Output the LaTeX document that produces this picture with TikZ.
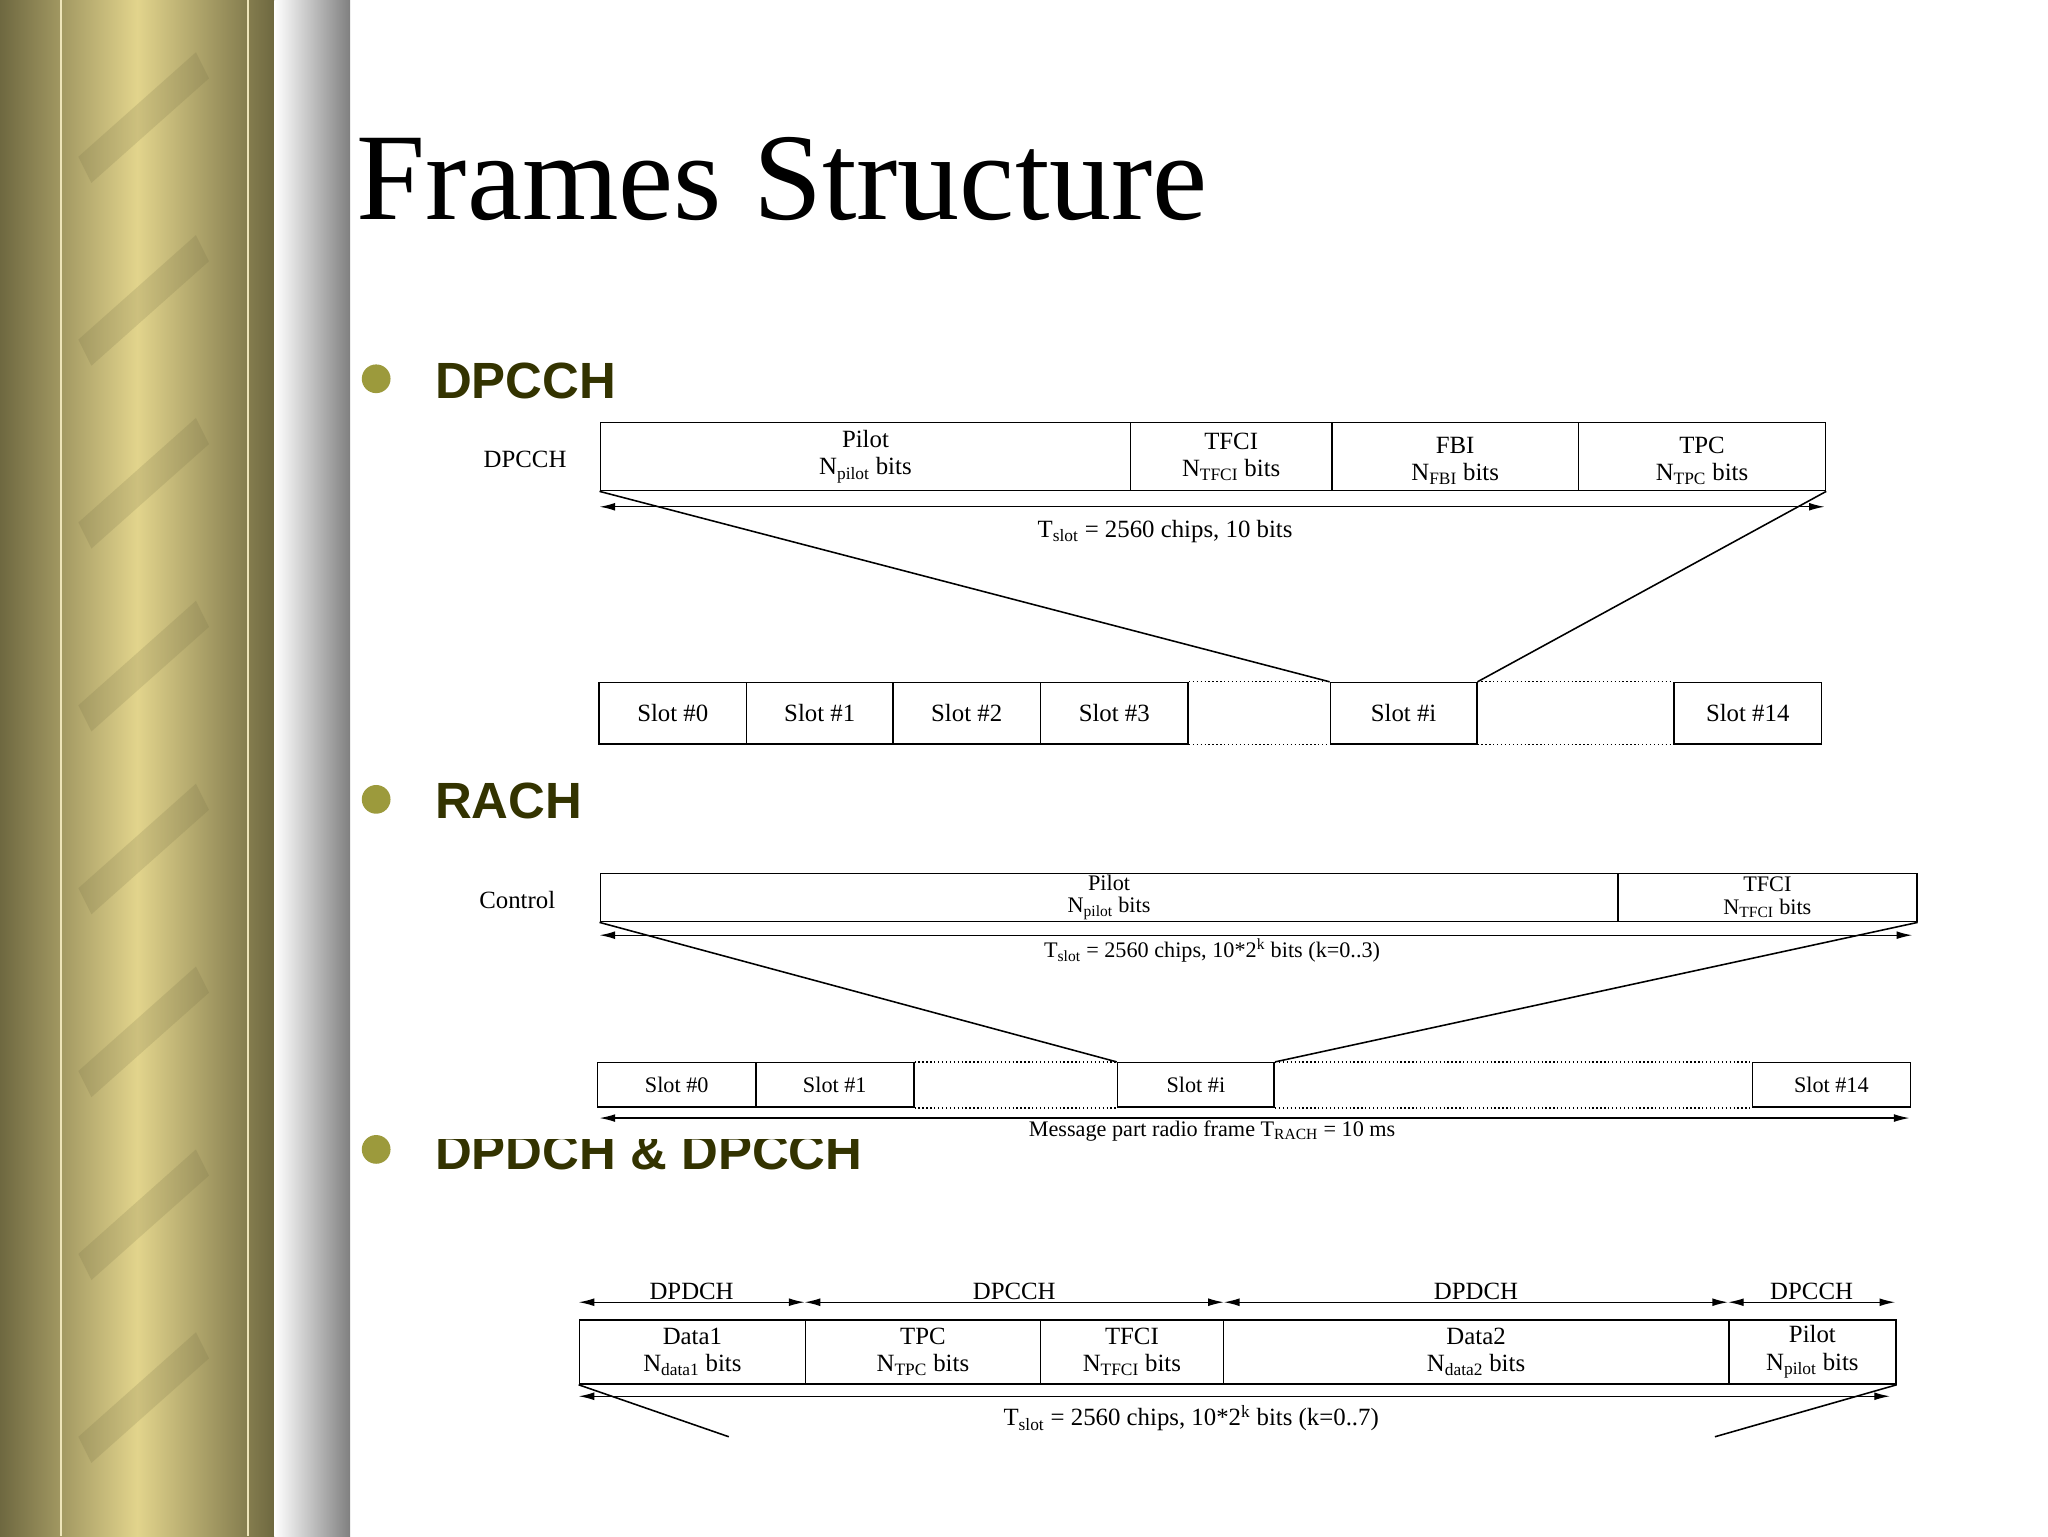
\documentclass[tikz,border=0pt]{standalone}
\usepackage{fontspec}
\setmainfont{Liberation Serif}
\setsansfont{Liberation Sans}
\usetikzlibrary{arrows.meta}
\definecolor{gold}{HTML}{E2D48C}
\definecolor{golddk}{HTML}{6E6840}
\definecolor{olive}{HTML}{9C9A3C}
\definecolor{headc}{HTML}{333300}
\tikzset{
  fld/.style={draw,line width=1.2pt,inner sep=0pt,anchor=north west,font=\fontsize{19}{21}\selectfont},
  lbl/.style={font=\fontsize{19}{21}\selectfont,align=center},
  dim/.style={line width=1pt,{Latex[length=12pt,width=6pt]}-{Latex[length=12pt,width=6pt]}},
  dot/.style={line width=1pt,dotted},
  fan/.style={line width=1.2pt},
  bul/.style={circle,fill=olive,minimum size=22pt,inner sep=0pt},
  head/.style={font=\fontsize{39}{39}\selectfont\sffamily\bfseries,text=headc,anchor=base west,inner sep=0pt},
}
\begin{document}
\begin{tikzpicture}[x=1pt,y=-1pt]
\useasboundingbox (0,0) rectangle (1568,1176);
\fill[white] (0,0) rectangle (1568,1176);
% left decorative strip
\shade[left color=golddk,right color=gold] (0,0) rectangle (105,1176);
\shade[left color=gold,right color=golddk] (105,0) rectangle (210,1176);
\foreach \k in {0,...,8}{
  \fill[golddk,opacity=0.18] (60,-20+\k*140) -- (150,-100+\k*140) -- (160,-80+\k*140) -- (70,0+\k*140) -- cycle;}
\draw[gold!60!white,line width=1.5pt] (47,0) -- (47,1176);
\draw[gold!60!white,line width=1.5pt] (190,0) -- (190,1176);
\shade[left color=white,right color=gray] (210,0) rectangle (268,1176);
% title
\node[anchor=base west,inner sep=0pt,font=\fontsize{95}{95}\selectfont] (title) at (273,168) {Frames Structure};
% bullets
\node[bul] (b1) at (288,290) {};
\node[bul] (b2) at (288,612) {};
\node[bul] (b3) at (288,880) {};
\node[head] (h1) at (333,305) {DPCCH};
\node[head] (h2) at (333,627) {RACH};
\node[head] (h3) at (333,895) {DPDCH \& DPCCH};
\fill[white] (330,650) rectangle (1490,872);

% ===== DPCCH =====
\node[lbl,anchor=center] (l1) at (402,352) {DPCCH};
\node[fld,minimum width=406pt,minimum height=52pt] (p1) at (459,323) {};
\node[fld,minimum width=154pt,minimum height=52pt] (p2) at (865,323) {};
\node[fld,minimum width=189pt,minimum height=52pt] (p3) at (1019,323) {};
\node[fld,minimum width=189pt,minimum height=52pt] (p4) at (1208,323) {};
\node[lbl] at (p1.center) {Pilot\\N\textsubscript{pilot} bits};
\node[lbl] at (p2.center) {TFCI\\N\textsubscript{TFCI} bits};
\node[lbl] at ([yshift=-3pt]p3.center) {FBI\\N\textsubscript{FBI} bits};
\node[lbl] at ([yshift=-3pt]p4.center) {TPC\\N\textsubscript{TPC} bits};
\coordinate (a1l) at (459,388); \coordinate (a1r) at (1397,388);
\draw[dim] (a1l) -- (a1r);
\node[lbl] at (892,407) {T\textsubscript{slot} = 2560 chips, 10 bits};
\node[fld,minimum width=113pt,minimum height=47pt] (s0) at (458,522) {Slot \#0};
\node[fld,minimum width=112pt,minimum height=47pt] (s1) at (571,522) {Slot \#1};
\node[fld,minimum width=113pt,minimum height=47pt] (s2) at (683,522) {Slot \#2};
\node[fld,minimum width=113pt,minimum height=47pt] (s3) at (796,522) {Slot \#3};
\node[fld,minimum width=112pt,minimum height=47pt] (si) at (1018,522) {Slot \#i};
\node[fld,minimum width=113pt,minimum height=47pt] (s14) at (1281,522) {Slot \#14};
\draw[dot] (s3.north east) -- (si.north west) (s3.south east) -- (si.south west);
\draw[dot] (si.north east) -- (s14.north west) (si.south east) -- (s14.south west);
\draw[fan] (p1.south west) -- (si.north west);
\draw[fan] (p4.south east) -- (si.north east);

% ===== RACH =====
\node[lbl,anchor=center] (l2) at (396,689) {Control};
\node[fld,minimum width=779pt,minimum height=37pt] (r1) at (459,668) {};
\node[fld,minimum width=229pt,minimum height=37pt] (r2) at (1238,668) {};
\node[lbl,font=\fontsize{17}{17}\selectfont] at (r1.center) {Pilot\\N\textsubscript{pilot} bits};
\node[lbl,font=\fontsize{17}{17}\selectfont] at (r2.center) {TFCI\\N\textsubscript{TFCI} bits};
\coordinate (a2l) at (459,716); \coordinate (a2r) at (1464,716);
\draw[dim] (a2l) -- (a2r);
\node[lbl,font=\fontsize{17}{19}\selectfont] at (928,728) {T\textsubscript{slot} = 2560 chips, 10*2\textsuperscript{k} bits (k=0..3)};
\tikzset{rs/.style={fld,minimum height=34pt,font=\fontsize{17}{19}\selectfont}}
\node[rs,minimum width=121pt] (q0) at (457,813) {Slot \#0};
\node[rs,minimum width=121pt] (q1) at (578,813) {Slot \#1};
\node[rs,minimum width=120pt] (qi) at (855,813) {Slot \#i};
\node[rs,minimum width=121pt] (q14) at (1341,813) {Slot \#14};
\draw[dot] (q1.north east) -- (qi.north west) (q1.south east) -- (qi.south west);
\draw[dot] (qi.north east) -- (q14.north west) (qi.south east) -- (q14.south west);
\draw[fan] (r1.south west) -- (qi.north west);
\draw[fan] (r2.south east) -- (qi.north east);
\coordinate (a3l) at (459,856); \coordinate (a3r) at (1462,856);
\draw[dim] (a3l) -- (a3r);
\node[lbl,font=\fontsize{17}{19}\selectfont] at (928,866) {Message part radio frame T\textsubscript{RACH} = 10 ms};

% ===== DPDCH & DPCCH =====
\tikzset{ds/.style={fld,minimum height=49pt}}
\node[ds,minimum width=173pt] (d1) at (443,1010) {};
\node[ds,minimum width=180pt] (d2) at (616,1010) {};
\node[ds,minimum width=140pt] (d3) at (796,1010) {};
\node[ds,minimum width=387pt] (d4) at (936,1010) {};
\node[ds,minimum width=128pt] (d5) at (1323,1010) {};
\node[lbl] at (d1.center) {Data1\\N\textsubscript{data1} bits};
\node[lbl] at (d2.center) {TPC\\N\textsubscript{TPC} bits};
\node[lbl] at (d3.center) {TFCI\\N\textsubscript{TFCI} bits};
\node[lbl] at (d4.center) {Data2\\N\textsubscript{data2} bits};
\node[lbl] at (d5.center) {Pilot\\N\textsubscript{pilot} bits};
\coordinate (t0) at (443,997); \coordinate (t1) at (616,997); \coordinate (t2) at (937,997);
\coordinate (t3) at (1323,997); \coordinate (t4) at (1451,997);
\draw[dim] (t0) -- node[lbl,above=-2pt]{DPDCH} (t1);
\draw[dim] (t1) -- node[lbl,above=-2pt]{DPCCH} (t2);
\draw[dim] (t2) -- node[lbl,above=-2pt]{DPDCH} (t3);
\draw[dim] (t3) -- node[lbl,above=-2pt]{DPCCH} (t4);
\coordinate (b0) at (443,1069); \coordinate (b1x) at (1447,1069);
\draw[dim] (b0) -- (b1x);
\node[lbl] at (912,1086) {T\textsubscript{slot} = 2560 chips, 10*2\textsuperscript{k} bits (k=0..7)};
\coordinate (f1) at (558,1100); \coordinate (f2) at (1313,1100);
\draw[fan] (d1.south west) -- (f1);
\draw[fan] (d5.south east) -- (f2);
\end{tikzpicture}
\end{document}
